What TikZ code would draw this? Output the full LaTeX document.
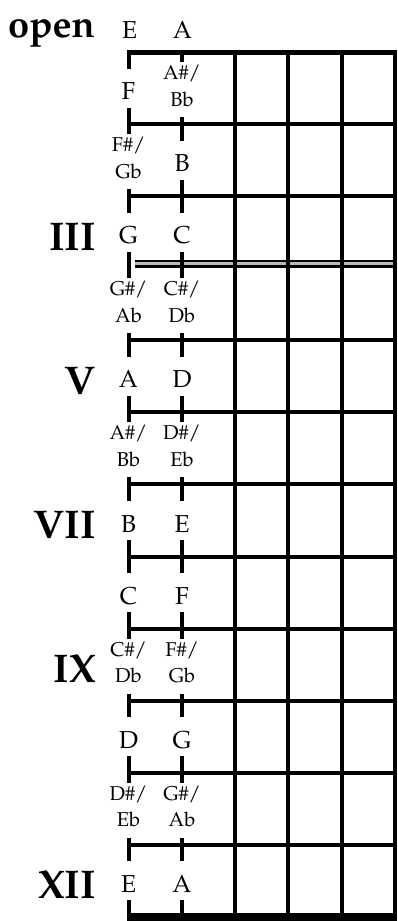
\documentclass[tikz,border=0pt]{standalone}
\usepackage[T1]{fontenc}
\renewcommand\rmdefault{ppl}
% two stacked note names, baseline on the lower one
\newcommand\twoline[2]{\begin{tabular}[b]{@{}c@{}}#1\\#2\end{tabular}}
\begin{document}
\begin{tikzpicture}[x=1pt,y=-1pt,
  fret/.style={line width=4pt},
  wire/.style={line width=4pt},
  note/.style={fill=white, inner xsep=3pt, inner ysep=0pt,
    text height=31pt, text depth=8pt, anchor=base, yshift=-11.5pt,
    font=\fontsize{24.5}{29}\selectfont},
  pair/.style={fill=white, inner xsep=3pt, inner ysep=0pt,
    text height=44pt, text depth=11pt, anchor=base, yshift=-18pt,
    font=\fontsize{20}{26.5}\selectfont},
  numeral/.style={anchor=base east, inner sep=0pt, yshift=-18pt,
    font=\fontsize{40}{48}\selectfont\bfseries},
  openlbl/.style={anchor=base, inner sep=0pt,
    font=\fontsize{24.5}{29}\selectfont},
]
\useasboundingbox (0,0) rectangle (398,921);

% fret spacing
\def\fr{72.08}

% nut
\draw[line width=5pt] (126.5,52.5) -- (397,52.5);
% ordinary frets
\foreach \k in {1,2,4,5,6,7,8,9,10,11}
  \draw[fret] (126.5,{52+\fr*\k}) -- (397,{52+\fr*\k});
% third fret drawn as a double line
\draw[line width=2.5pt, double=gray!55, double distance=3pt] (135,263.5) -- (397,263.5);
% twelfth fret at the bottom
\draw[line width=8pt] (126.5,917) -- (397,917);

% strings
\foreach \x in {128.5,181.8,235.1,288.4,341.7,395}
  \draw[wire] (\x,50) -- (\x,921);

% open strings
\node[anchor=base west, inner sep=0pt, font=\fontsize{38}{44}\selectfont\bfseries] (open) at (8,37) {open};
\node[openlbl] (e0) at (129.5,38) {E};
\node[openlbl] (a0) at (182.5,38) {A};

% notes on the E string
\foreach \k/\st/\t in {1/note/F, 2/pair/{\twoline{F\#/}{Gb}}, 3/note/G,
    4/pair/{\twoline{G\#/}{Ab}}, 5/note/A, 6/pair/{\twoline{A\#/}{Bb}},
    7/note/B, 8/note/C, 9/pair/{\twoline{C\#/}{Db}}, 10/note/D,
    11/pair/{\twoline{D\#/}{Eb}}, 12/note/E}
  \node[\st] (e\k) at (128.5,{52+\fr*(\k-0.5)}) {\t};

% notes on the A string
\foreach \k/\st/\t in {1/pair/{\twoline{A\#/}{Bb}}, 2/note/B, 3/note/C,
    4/pair/{\twoline{C\#/}{Db}}, 5/note/D, 6/pair/{\twoline{D\#/}{Eb}},
    7/note/E, 8/note/F, 9/pair/{\twoline{F\#/}{Gb}}, 10/note/G,
    11/pair/{\twoline{G\#/}{Ab}}, 12/note/A}
  \node[\st] (a\k) at (182,{52+\fr*(\k-0.5)}) {\t};

% position markers
\foreach \k/\r in {3/III, 5/V, 7/VII, 9/IX, 12/XII}
  \node[numeral] (n\k) at (96,{52+\fr*(\k-0.5)}) {\r};
\end{tikzpicture}
\end{document}
